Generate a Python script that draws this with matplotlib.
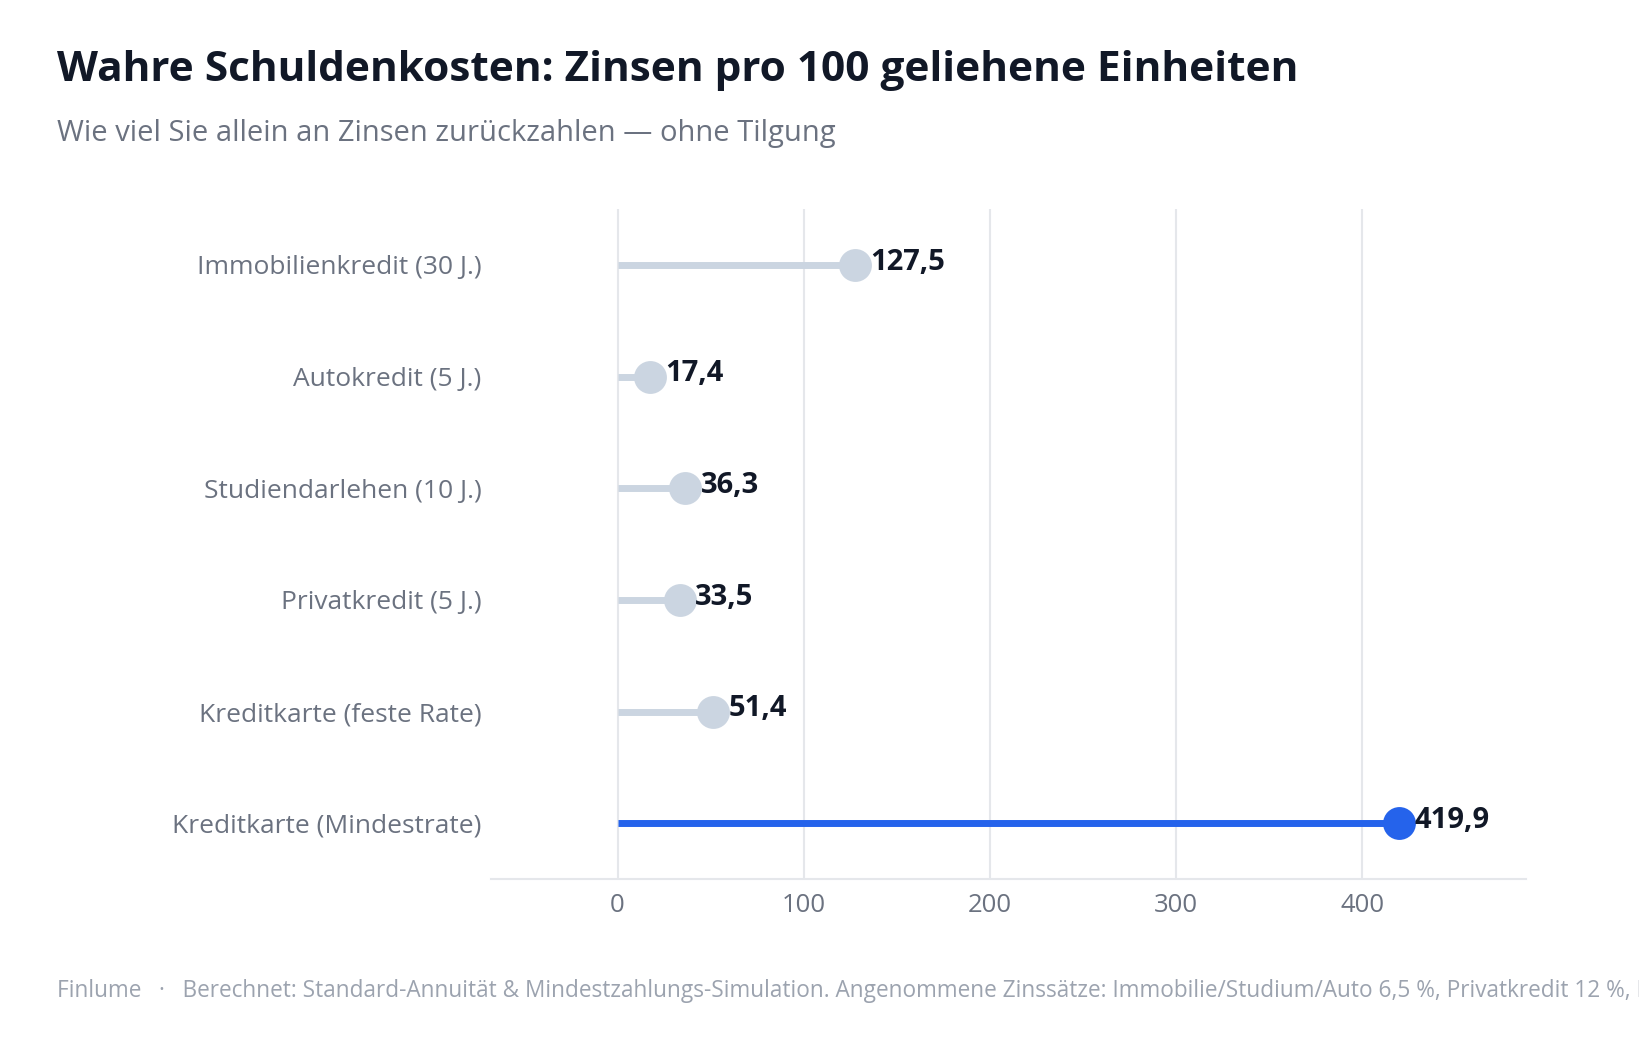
import matplotlib
matplotlib.use('Agg')
import matplotlib.pyplot as plt

plt.rcParams['font.family'] = ['Open Sans', 'DejaVu Sans']

categories = ['Kreditkarte (Mindestrate)', 'Kreditkarte (feste Rate)', 'Privatkredit (5 J.)',
              'Studiendarlehen (10 J.)', 'Autokredit (5 J.)', 'Immobilienkredit (30 J.)']
values = [419.9, 51.4, 33.5, 36.3, 17.4, 127.5]
highlight = 'Kreditkarte (Mindestrate)'
xticks = [0, 100, 200, 300, 400]

title = 'Wahre Schuldenkosten: Zinsen pro 100 geliehene Einheiten'
subtitle = 'Wie viel Sie allein an Zinsen zurückzahlen — ohne Tilgung'
footer = ('Finlume   ·   Berechnet: Standard-Annuität & Mindestzahlungs-Simulation. '
          'Angenommene Zinssätze: Immobilie/Studium/Auto 6,5 %, Privatkredit 12 %, Kreditkarte')

blue = '#2563eb'
gray = '#cbd5e1'
dark = '#111827'
muted = '#6b7280'

fig = plt.figure(figsize=(16.39, 10.4), dpi=100)
ax = fig.add_axes([0.2996, 0.1548, 0.6314, 0.6442])

for i, (c, v) in enumerate(zip(categories, values)):
    col = blue if c == highlight else gray
    ax.plot([0, v], [i, i], color=col, lw=5, solid_capstyle='butt', zorder=2)
    ax.scatter([v], [i], s=560, color=col, zorder=3, linewidths=0)
    ax.annotate(f'{v:.1f}'.replace('.', ','), (v, i), xytext=(11, 2), textcoords='offset points',
                ha='left', va='center', fontsize=21, fontweight='bold', color=dark)

ax.set_xlim(-68, 488)
ax.set_ylim(-0.5, len(categories) - 0.5)
ax.set_yticks(range(len(categories)))
ax.set_yticklabels(categories, fontsize=19, color=muted)
ax.set_xticks(xticks)
ax.set_xticklabels([str(t) for t in xticks], fontsize=18.5, color=muted)
ax.tick_params(axis='both', length=0)
ax.tick_params(axis='y', pad=7)
ax.tick_params(axis='x', pad=10)
ax.grid(axis='x', color='#e5e7eb', lw=1.5, zorder=0)
ax.set_axisbelow(True)
for s in ['top', 'right', 'left']:
    ax.spines[s].set_visible(False)
ax.spines['bottom'].set_color('#e5e7eb')
ax.spines['bottom'].set_linewidth(1.5)

fig.text(0.035, 0.922, title, fontsize=30.5, fontweight='bold', color=dark, va='baseline')
fig.text(0.035, 0.864, subtitle, fontsize=21, color=muted, va='baseline')
fig.text(0.035, 0.047, footer, fontsize=16.3, color='#9ca3af', va='center')

fig.savefig('out.png', dpi=100)
